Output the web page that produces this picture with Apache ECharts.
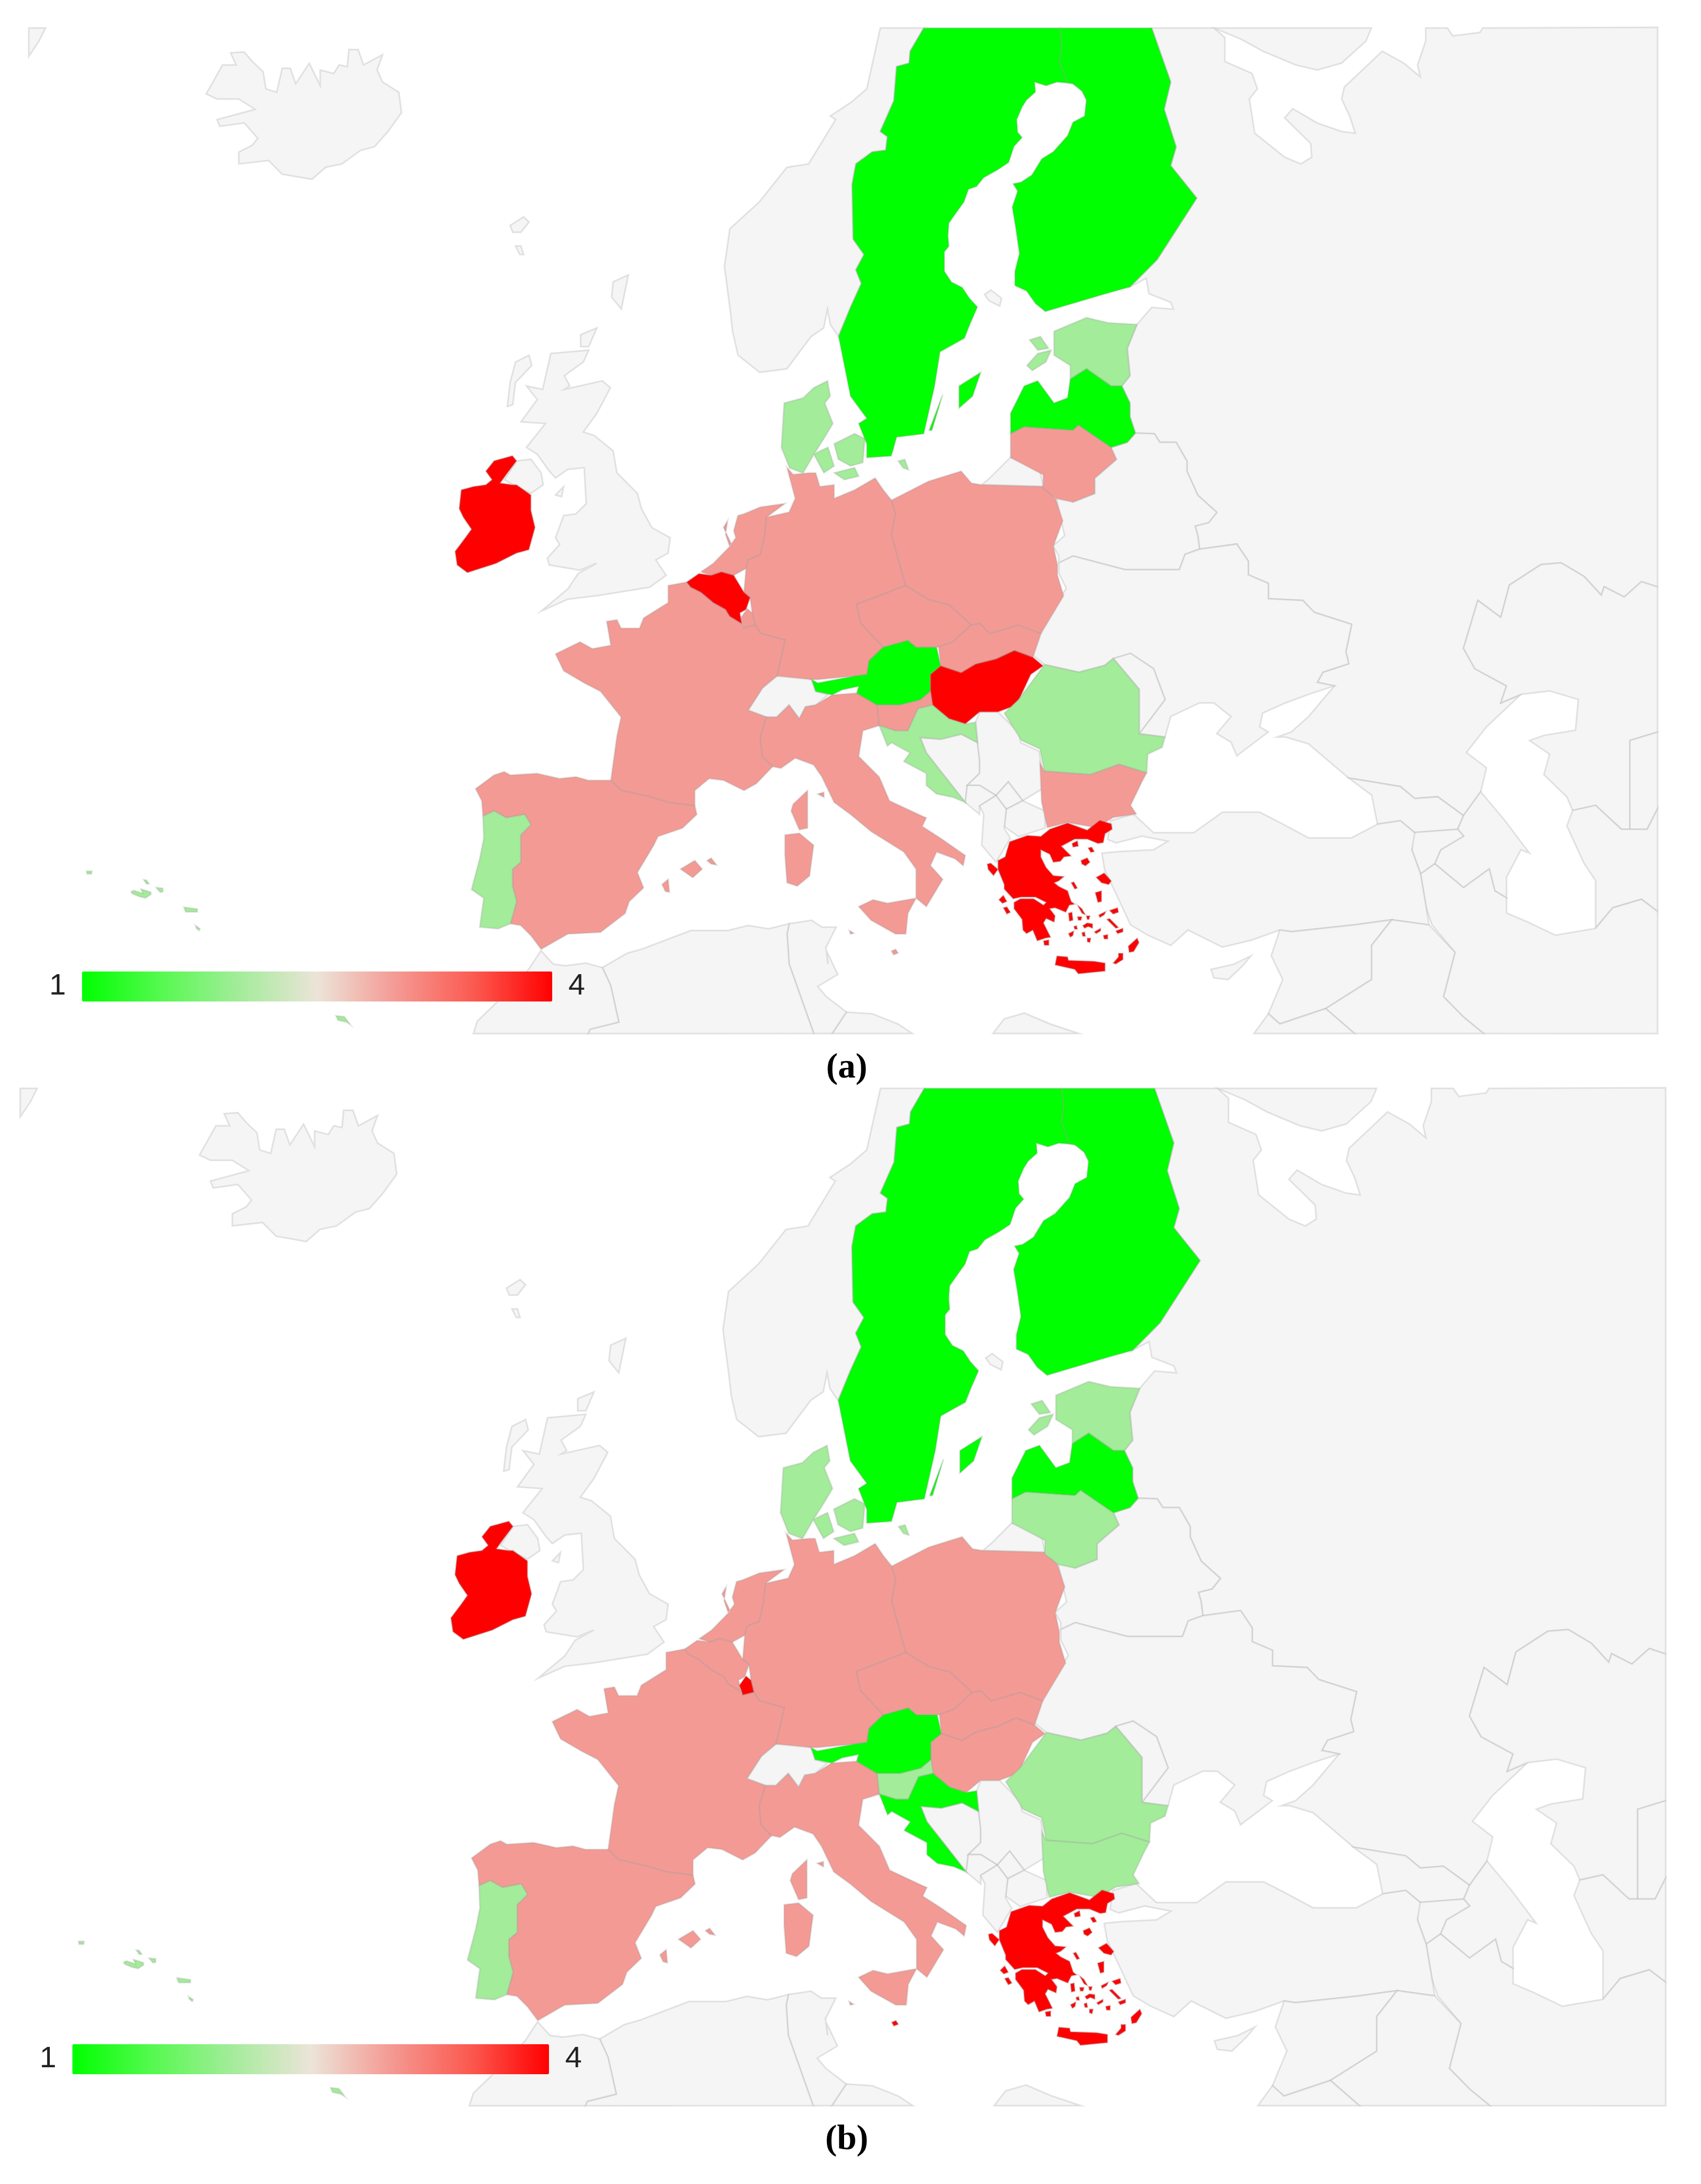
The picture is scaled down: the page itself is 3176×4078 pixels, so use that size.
<!DOCTYPE html>
<html><head><meta charset="utf-8">
<style>html,body{margin:0;padding:0;background:#fff}#c{width:3176px;height:4078px}</style>
<script src="https://cdn.jsdelivr.net/npm/echarts@6/dist/echarts.min.js"></script>
</head><body><div id="c"></div>
<script>
// ---------- values ----------
const countries = ['Ireland','Belgium','Luxembourg','Netherlands','Germany','France','Spain','Portugal','Italy','Malta','Austria','Czechia','Slovakia','Poland','Hungary','Slovenia','Croatia','Romania','Bulgaria','Greece','Denmark','Sweden','Finland','Estonia','Latvia','Lithuania'];
const valuesA  = [4,4,3,3,3,3,3,2,3,3,1,3,3,3,4,3,2,2,3,4,2,1,1,2,1,3];
const valuesB  = [4,3,4,3,3,3,3,2,3,4,1,3,3,3,3,2,1,2,2,4,2,1,1,2,1,2];
const scaleTicks = ['1','4'];
const scaleColors = ['#00ff00','#55f94f','#a3ec9a','#ece4d8','#f49a94','#fb5a50','#ff0000'];
const captions = ['a','b'];

// ---------- map outlines ----------
const sheet=(x0,y0,sx,sy)=>(...a)=>{const o=[];for(let i=0;i<a.length;i+=2){
  const x=Math.min(3095,Math.max(53,x0+a[i]/sx)),y=Math.min(1930,Math.max(51,y0+a[i+1]/sy));o.push([x,-y]);}return o;};
const A=sheet(0,0,.987,1.568),B=sheet(1588,0,.987,1.568),C=sheet(800,800,1.307,1.568),E=sheet(1500,1000,.933,1.568),Z=sheet(0,1700,1.307,3),R=sheet(0,0,1,1),W=sheet(100,1580,3,3),G=sheet(1830,1520,3,3),H=sheet(1700,100,3,3);
const shapes={
Greenland:[A(53,82,84,82,72,120,53,165)],
Iceland:[A(425,155,450,152,465,180,485,210,490,260,510,270,520,200,535,200,545,245,570,185,590,250,590,205,615,215,625,190,640,195,643,145,660,145,670,190,705,160,695,205,705,240,735,270,740,330,715,385,690,430,665,440,630,480,600,490,575,525,520,510,495,470,440,480,440,445,465,425,475,405,450,360,405,370,400,350,470,320,440,290,400,290,380,275,410,190,435,190)],
Faroe:[A(940,660,965,635,975,650,960,680,945,680),A(950,720,960,720,965,745,958,745)],
Shetland:[A(1130,825,1158,805,1145,905,1127,870)],
UK:[[...A(1015,1035,1085,1025,1075,1060,1040,1100,1050,1130,1040,1140,1110,1115,1125,1135,1100,1210,1075,1265,1095,1275,1130,1320),...C(460,130,510,190,520,235,545,290,590,320,585,365,555,385,580,430,540,465,410,490,340,500,275,535,340,470,365,425,410,395,370,415,295,400,290,380,320,340,310,320,330,255,360,250,385,220,380,115,340,120,310,145,295,125),...A(990,1330,970,1310,1005,1240,960,1235,990,1170,970,1130,1000,1140)],
 A(950,1060,975,1040,980,1070,950,1120,945,1185,935,1190,940,1120),A(1070,980,1100,960,1085,1015,1070,1015),C(185,150,215,95,250,90,275,130,280,165,250,190,215,170),C(310,195,330,170,325,200)],
Norway:[[...A(1400,1090,1360,1040,1350,970,1345,900,1335,780,1345,670,1400,590,1450,490,1490,480,1540,350,1530,340,1568,300),...B(30,260,55,82,135,82,110,150,108,185,85,195,80,295,55,385,68,400,65,440,40,445,10,480,3,540,5,700,25,745,10,790,20,830,0,900),...A(1545,985,1530,950,1525,905,1518,960,1495,985,1450,1080)]],
Kola:[B(670,82,960,82,950,120,905,185,860,205,820,190,760,150,720,115)],
Aland:[H(415,1350,450,1325,510,1370,500,1415,440,1385)],
Russia:[[...B(555,82,670,82,690,110,690,180,740,215,750,260,735,290,745,390,800,460,830,480,850,460,848,420,800,345,815,318,860,360,905,385,930,390,920,340,905,290,910,255,950,195,980,150,1020,185,1050,225,1045,190,1060,120,1060,82,1100,82,1110,105,1160,95,1165,82),...R(3095,51,3095,1096),...E(1460,135,1430,180,1395,150,1390,175,1360,120,1320,80,1285,85,1230,145,1215,240,1175,190,1150,330,1170,390,1225,440,1215,490,1250,465,1190,560,1155,635,1190,680,1180,750,1150,820,1105,765,1065,770,1040,735,950,710,880,610,840,590,825,590,850,575,880,530,925,440,895,430,905,400,950,375,945,340,955,260,890,225,870,190,810,185,810,140,775,115,775,75,755,25,690,40),...B(640,1568,635,1540,660,1530,675,1500,640,1450,620,1380,620,1350,600,1295,570,1295,560,1270,525,1268,515,1220,515,1180,500,1130,515,1100,510,1020,528,950,555,900,595,905,590,885,550,860,545,815,515,840,565,760,638,580,590,485,600,430,578,320,590,240)]],
Kaliningrad:[C(1350,165,1370,145,1420,85,1490,110,1500,170)],
Belarus:[[...B(525,1268,560,1270,570,1295,600,1295,620,1350,620,1380,640,1450,675,1500,660,1530,635,1540,640,1568),...E(690,40,665,55,655,100,560,100,470,60,445,80,445,60,435,30,455,0),...B(375,1430,410,1470,450,1445,450,1400,490,1345,480,1310,510,1295)]],
Ukraine:[E(445,80,470,60,560,100,655,100,665,55,690,40,755,25,775,75,775,115,810,140,810,185,870,190,890,225,955,260,945,340,950,375,905,400,895,430,925,440,880,465,840,490,800,520,795,560,810,575,755,645,745,605,720,580,745,530,715,490,690,490,640,530,630,590,585,580,630,480,610,390,570,345,540,360,525,380,480,400,420,378,400,350,410,300,415,260,458,155,445,110)],
Moldova:[E(540,360,570,345,610,390,630,480,585,580,585,450)],
Kazakhstan:[[...R(3095,1096,3095,1367),...E(1440,600,1440,860,1425,860,1380,790,1340,805,1330,765,1290,700,1300,640,1265,600,1290,585,1345,570,1350,480,1300,455,1250,465,1215,490,1225,440,1170,390,1150,330,1175,190,1215,240,1230,145,1285,85,1320,80,1360,120,1390,175,1395,150,1430,180,1460,135)]],
Uzbekistan:[[...R(3095,1367,3095,1510),...E(1470,860,1440,860,1440,600)]],
Turkmenistan:[[...E(1340,805,1380,790,1425,860,1470,860),...R(3095,1510,3095,1702),...E(1460,1065,1410,1090,1380,1150,1380,1010,1360,960,1330,850)]],
Iran:[[...E(1380,1150,1410,1090,1460,1065),...R(3095,1702,3095,1930),...E(1185,1458,1150,1410,1115,1350,1135,1220,1095,1140,1085,1090,1075,990,1100,960,1150,1030,1195,975,1205,1040,1225,1060,1225,1105,1260,1130,1310,1170)]],
Georgia:[E(1000,845,1040,835,1065,870,1140,860,1150,820,1105,765,1065,770,1040,735,950,710,990,760)],
Azerbaijan:[E(1140,860,1150,820,1180,750,1220,830,1265,930,1250,920,1225,1000,1225,1060,1205,1040,1195,975,1150,1030,1100,960,1110,920,1150,880)],
Armenia:[E(1060,870,1140,860,1150,880,1110,920,1100,960,1075,990,1060,920)],
Turkey:[E(610,870,680,870,730,810,795,810,830,840,880,885,955,885,1000,845,1040,835,1065,870,1060,920,1075,990,1085,1090,1090,1140,1025,1125,960,1140,850,1160,830,1155,780,1185,730,1205,670,1155,640,1200,600,1170,570,1140,545,1050,525,980,520,930,550,925,610,920,635,895,590,880,545,900,530,890,535,835,575,815)],
Syria:[E(830,1155,850,1160,960,1140,1025,1125,990,1200,990,1300,910,1385,830,1430,810,1400,835,1300,815,1230)],
Iraq:[E(1025,1125,1090,1140,1135,1220,1115,1350,1150,1410,1185,1458,960,1458,910,1385,990,1300,990,1200)],
Arabia:[E(910,1385,960,1458,785,1458,810,1400,830,1430)],
Cyprus:[E(710,1270,750,1255,780,1230,765,1260,740,1300,715,1295)],
Libya:[E(330,1458,350,1415,385,1398,430,1430,480,1458),E(75,1395,120,1400,165,1430,190,1458,50,1458)],
Tunisia:[[...C(880,1450,935,1440,960,1460,995,1460,970,1520,975,1568),...E(40,1215,60,1285,25,1320,40,1350,75,1395,50,1458,18,1458),...C(880,1568,875,1480)]],
Algeria:[[...Z(1435,690,1440,665,1510,625,1490,420,1470,320,1530,240,1568,215),...C(640,1470,730,1470,780,1455,830,1465,880,1450,875,1480,880,1568),...E(18,1458)]],
Morocco:[Z(1155,690,1165,620,1210,520,1290,330,1320,225,1350,300,1380,310,1430,295,1470,320,1490,420,1510,625,1440,665,1435,690)],
Switzerland:[C(780,825,815,760,850,725,890,720,935,735,945,770,975,780,945,810,920,815,905,850,880,810,850,845,825,845)],
Bosnia:[C(1200,905,1250,910,1300,895,1340,920,1345,970,1345,1010,1315,1045,1310,1095,1215,950)],
Serbia:[C(1335,860,1345,830,1390,830,1440,890,1445,920,1490,945,1505,1050,1450,1090,1415,1035,1385,1075,1345,1045,1315,1045,1345,1010,1345,970,1340,920)],
Montenegro:[C(1310,1095,1315,1045,1345,1045,1385,1075,1345,1105,1345,1130)],
Kosovo:[C(1385,1075,1415,1035,1450,1090,1410,1115)],
NorthMacedonia:[C(1410,1115,1450,1090,1505,1120,1505,1170,1440,1195,1405,1165)],
Albania:[C(1345,1105,1385,1075,1410,1115,1405,1170,1420,1200,1385,1270,1350,1220,1355,1130)],
Ireland:[C(140,125,160,95,205,80,215,95,190,135,175,160,205,165,215,165,250,195,250,240,260,290,245,355,215,365,165,395,95,422,70,400,65,360,90,320,105,295,85,260,75,235,80,180,110,170,140,165,155,150)],
Netherlands:[C(825,260,870,220,810,230,770,250,755,255,745,300,750,320,735,345,725,310,730,270,720,290,740,340,695,395,665,420,690,430,715,420,745,430,775,410,780,385,810,370,820,320)],
Germany:[C(875,115,890,135,930,130,945,130,955,170,990,165,990,205,1040,180,1090,145,1110,180,1130,210,1140,250,1130,310,1160,440,1165,460,1100,490,1045,515,1055,570,1110,640,1075,680,1070,720,1040,725,950,735,935,735,850,725,870,620,810,600,797,575,790,540,785,495,770,480,775,410,780,385,810,370,820,320,825,260,880,245,895,205)],
France:[C(585,460,630,450,640,465,665,480,695,510,725,530,735,550,765,572,770,583,797,575,810,600,870,620,850,725,815,760,780,825,825,845,810,905,815,960,840,990,800,1040,770,1060,720,1030,685,1025,650,1060,650,1105,585,1095,545,1080,470,1060,445,1030,460,900,470,845,420,770,380,745,330,710,310,660,370,625,400,645,445,635,435,565,460,560,470,585,515,585,525,555,585,510),C(890,1100,925,1060,925,1170,905,1175,885,1120)],
Belgium:[C(630,450,660,425,690,430,715,420,745,430,770,480,785,495,775,530,760,540,765,572,735,550,725,530,695,510,665,480,640,465)],
Luxembourg:[C(778,528,790,540,797,575,770,583,762,555)],
Spain:[C(115,1055,160,1015,185,1005,200,1015,265,1010,320,1025,360,1020,390,1030,445,1030,470,1060,545,1080,585,1095,650,1105,655,1130,620,1170,560,1195,550,1220,510,1300,525,1345,490,1385,480,1420,420,1475,340,1480,275,1525,250,1485,225,1455,200,1450,215,1385,205,1340,205,1290,225,1270,225,1190,250,1160,235,1130,190,1140,160,1120,133,1135,130,1090),C(615,1290,650,1265,668,1290,645,1315),C(680,1265,690,1258,703,1278,690,1275),C(570,1335,585,1320,588,1358,578,1355)],
Portugal:[C(133,1135,160,1120,190,1140,235,1130,250,1160,225,1190,225,1270,205,1290,205,1340,215,1385,200,1450,170,1465,125,1460,135,1375,105,1350,125,1260,135,1200),W(185,140,215,140,212,155,188,155),W(505,188,520,190,535,210,522,212),W(435,255,450,248,500,265,490,240,545,258,545,270,515,290,480,282,440,265),W(575,232,612,236,612,255,598,258),W(730,342,805,352,805,368,740,368),W(795,445,820,462,815,472,800,460),Z(820,590,840,595,855,640,845,625,825,615)],
Italy:[C(825,845,850,845,880,810,905,850,920,815,945,810,985,780,1045,775,1095,810,1100,870,1060,885,1050,960,1100,1020,1125,1090,1205,1135,1215,1140,1205,1165,1250,1200,1310,1250,1305,1280,1285,1260,1240,1240,1225,1280,1255,1320,1240,1350,1215,1400,1190,1375,1190,1290,1160,1240,1080,1180,1030,1130,990,1095,960,1020,940,985,895,965,860,995,840,990,815,960,810,905),C(1050,1400,1085,1380,1120,1390,1190,1375,1170,1420,1165,1480,1140,1480,1080,1440),C(870,1190,905,1185,940,1220,930,1310,900,1340,875,1330,870,1250),C(950,1070,965,1065,965,1080),C(1027,1470,1038,1478,1030,1480)],
Malta:[C(1130,1530,1140,1525,1146,1536,1135,1541)],
Austria:[C(935,735,950,745,1040,725,1070,720,1075,680,1110,640,1170,620,1190,640,1240,640,1250,695,1225,720,1225,770,1200,795,1150,810,1095,810,1045,775,1050,755,1010,765,985,780,945,770)],
Czechia:[C(1045,515,1100,490,1165,460,1220,500,1250,510,1270,515,1325,575,1280,625,1245,640,1190,640,1170,620,1110,640,1055,570)],
Slovakia:[C(1245,640,1280,625,1325,575,1345,570,1370,600,1440,575,1495,600,1475,670,1430,650,1385,675,1335,690,1300,715,1250,695)],
Poland:[C(1130,210,1220,155,1300,125,1325,160,1350,165,1500,170,1530,205,1548,270,1525,345,1535,400,1535,430,1550,490,1495,600,1440,575,1370,600,1345,570,1325,575,1270,515,1250,510,1220,500,1165,460,1160,440,1130,310,1140,250)],
Hungary:[C(1225,720,1250,695,1300,715,1335,690,1385,675,1430,650,1475,670,1500,695,1470,720,1435,810,1390,830,1345,830,1310,865,1270,850,1230,810,1225,770)],
Slovenia:[C(1095,810,1150,810,1200,795,1225,770,1230,810,1195,820,1170,885,1140,885,1100,870)],
Croatia:[C(1195,820,1230,810,1270,850,1310,865,1335,860,1340,920,1300,895,1250,910,1200,905,1215,950,1310,1095,1280,1080,1240,1070,1215,1045,1215,1010,1160,975,1175,950,1130,920,1120,930,1100,870,1140,885,1170,885)],
Romania:[E(420,378,480,400,525,380,540,360,585,450,585,580,630,590,625,620,600,640,598,695,550,670,500,700,420,690,412,625,380,600,350,520,375,480)],
Bulgaria:[E(412,665,420,690,500,700,550,670,598,695,590,720,570,790,580,815,540,825,510,855,460,840,425,855,415,780)],
Greece:[G(165,155,265,120,340,125,390,85,490,50,600,90,670,35,735,55,740,85,700,110,690,160,660,165,600,140,530,140,455,180,510,235,470,240,450,265,410,270,390,225,340,200,340,240,370,300,410,345,470,350,440,375,415,385,440,405,490,430,510,490,530,505,500,510,480,550,420,525,390,530,420,570,415,605,370,585,355,610,395,690,365,695,320,710,295,650,260,670,240,650,235,590,190,530,190,495,225,475,300,475,355,510,370,495,310,465,230,465,185,475,135,420,135,395,100,310,100,260,140,240),G(40,280,60,275,100,310,75,345,45,310),G(105,480,130,455,150,490,125,500),G(130,525,150,520,170,550,150,560),G(515,165,545,150,550,180,520,185),G(605,190,625,185,640,210,620,215),G(565,260,600,245,615,270,590,290,570,280),G(650,355,695,330,735,375,720,395,680,385),G(645,440,680,430,680,490,660,495),G(510,385,525,380,545,415,530,420),G(665,565,705,545,695,565,670,580),G(725,540,770,525,775,550,745,560),G(545,510,570,530,590,565,570,555),G(710,590,725,585,775,635,760,640),G(760,655,800,640,800,660,770,670),G(495,555,515,550,520,595,500,600),G(545,575,570,575,565,595,550,595),G(595,570,615,570,610,590,600,590),G(575,625,600,610,630,615,630,640,605,630,585,640),G(525,630,540,625,545,645,530,645),G(495,670,525,655,520,680,505,690),G(570,665,585,660,590,685,575,685),G(600,695,620,695,615,720,600,715),G(640,660,675,640,675,655,650,670),G(690,680,715,675,715,700,695,700),G(355,710,385,705,385,735,360,735),G(830,740,880,695,890,720,860,770,835,775),G(745,835,775,800,775,780,800,780,800,815,760,840),G(420,845,430,795,490,800,495,820,640,825,700,835,700,880,550,895,530,870)],
Denmark:[A(1525,1115,1530,1160,1520,1180,1535,1240,1520,1280,1500,1330,1480,1385,1455,1370,1440,1310,1445,1180,1480,1165,1500,1135),C(940,75,975,55,990,110,965,130),C(990,45,1040,15,1065,30,1060,100,1030,110,1000,90),C(990,130,1040,115,1050,140,1015,150),B(88,1350,100,1345,107,1375,97,1370)],
Sweden:[[...B(135,82,385,82,390,130,385,180),...H(880,165,820,160,760,180,695,160,700,215,650,260,625,300,595,370,600,440,625,470,580,520,550,610,490,650,410,695,370,745,325,760,300,830,250,900,215,950,210,1020,215,1080,190,1110,190,1220,230,1280,290,1310,330,1370,375,1420),...B(220,950,210,990,165,1030,155,1130,135,1270,85,1280,78,1320,75,1335,30,1340,30,1300,15,1240,30,1225,0,1160,-22,985,0,900,20,830,10,790,25,745,5,700,3,540,10,480,40,445,65,440,68,400,55,385,80,295,85,195,108,185,110,150)],B(145,1260,170,1155,150,1260),B(200,1195,200,1130,240,1090,225,1160)],
Finland:[[...B(385,82,555,82,590,240,578,320,600,430,590,485,638,580,565,760,515,840,470,860),...H(755,1445,700,1400,650,1330,585,1300,585,1220,610,1120,590,980,570,860,600,770,575,730,620,720,680,680,735,590,800,550,880,460,910,385,975,350,985,260,960,210,910,170,880,165),...B(385,180,390,130)]],
Estonia:[B(375,970,435,930,475,945,528,950,510,1020,515,1100,500,1130,480,1130,435,1080,405,1110,405,1070,375,1040),B(325,1070,345,1035,370,1025,360,1060,335,1085),B(330,995,350,985,365,1020,345,1025)],
Latvia:[B(295,1270,295,1210,320,1130,345,1115,375,1180,400,1165,405,1110,435,1080,480,1130,500,1130,515,1180,515,1220,525,1268,510,1295,480,1310,420,1245,410,1260,320,1250)],
Lithuania:[B(295,1270,320,1250,410,1260,420,1245,480,1310,490,1345,450,1400,450,1445,410,1470,380,1460,355,1430,355,1390,295,1340)]
};
const geo={type:'FeatureCollection',features:Object.keys(shapes).map(n=>({type:'Feature',properties:{name:n},
  geometry:{type:'MultiPolygon',coordinates:shapes[n].map(r=>[[...r,r[0]]])}}))};

// ---------- layout of the two panels ----------
const panels=[
 {map:'europeA',values:valuesA,left:53,top:51,width:3042,height:1879,labelLeft:77,barTop:1799,barLen:878,capTop:1957},
 {map:'europeB',values:valuesB,left:37,top:2031,width:3073,height:1901,labelLeft:59,barTop:3802,barLen:890,capTop:3958}
];
panels.forEach(p=>echarts.registerMap(p.map,geo));
const seriesList=panels.map(p=>({type:'map',map:p.map,aspectScale:1,silent:true,roam:false,
  left:p.left,top:p.top,width:p.width,height:p.height,boundingCoords:[[53,-51],[3095,-1930]],
  label:{show:false},emphasis:{disabled:true},select:{disabled:true},showLegendSymbol:false,
  itemStyle:{areaColor:'#f5f5f5',borderColor:'rgba(150,150,150,0.25)',borderWidth:3},
  data:countries.map((n,i)=>({name:n,value:p.values[i]}))}));
const maps=panels.map((p,i)=>({type:'continuous',seriesIndex:i,min:1,max:4,calculable:false,orient:'horizontal',
  left:p.labelLeft,top:p.barTop,itemWidth:56,itemHeight:p.barLen,text:[scaleTicks[1],scaleTicks[0]],textGap:30,
  textStyle:{color:'#222',fontSize:56,fontFamily:'Liberation Sans'},inRange:{color:scaleColors},realtime:false,hoverLink:false}));
const titles=panels.map((p,i)=>({text:'{p|(}{b|'+captions[i]+'}{p|)}',left:1576,top:p.capTop,textAlign:'center',
  textStyle:{rich:{p:{fontFamily:'Liberation Serif',fontSize:66,color:'#000'},b:{fontFamily:'Liberation Serif',fontSize:66,fontWeight:'bold',color:'#000'}}}}));
const chart=echarts.init(document.getElementById('c'));
chart.setOption({animation:false,backgroundColor:'#fff',title:titles,visualMap:maps,series:seriesList});
</script></body></html>
